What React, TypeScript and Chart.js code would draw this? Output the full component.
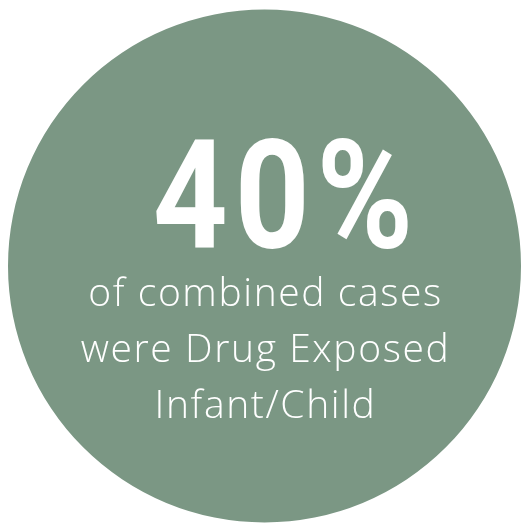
import React, { useEffect, useRef } from "react";
import { Chart, registerables } from "chart.js";

Chart.register(...registerables);

const categories = ["Drug Exposed Infant/Child"];
const values = [40];
const captionLines = ["of combined cases", "were Drug Exposed", "Infant/Child"];
const circleColor = "#7b9784";

const textPlugin = {
  id: "centerText",
  afterDraw(chart: any) {
    const ctx = chart.ctx as CanvasRenderingContext2D;
    const meta = chart.getDatasetMeta(0);
    const arc = meta.data[0];
    if (!arc) return;
    const cx = arc.x;
    const cy = arc.y;
    ctx.save();
    ctx.fillStyle = "#ffffff";
    ctx.textAlign = "center";
    ctx.textBaseline = "alphabetic";
    // big number
    ctx.save();
    (ctx as any).letterSpacing = "8px";
    ctx.font = "700 152px Roboto";
    ctx.translate(cx + 22, cy - 18);
    ctx.scale(0.86, 1);
    ctx.fillText(`${values[0]}%`, 0, 0);
    ctx.restore();
    // caption
    (ctx as any).letterSpacing = "1.6px";
    ctx.font = "300 39px 'Open Sans'";
    captionLines.forEach((line, i) => {
      ctx.fillText(line, cx + 1, cy + 40 + i * 56);
    });
    ctx.restore();
  },
};

export default function App() {
  const ref = useRef<HTMLCanvasElement | null>(null);
  useEffect(() => {
    if (!ref.current) return;
    const chart = new Chart(ref.current, {
      type: "pie",
      data: {
        labels: categories,
        datasets: [
          {
            data: [100],
            backgroundColor: [circleColor],
            borderWidth: 0,
          },
        ],
      },
      options: {
        animation: false,
        responsive: false,
        maintainAspectRatio: false,
        events: [],
        layout: { padding: { left: 8, right: 0, top: 9, bottom: 2 } },
        plugins: {
          legend: { display: false },
          tooltip: { enabled: false },
        },
      },
      plugins: [textPlugin],
    });
    return () => chart.destroy();
  }, []);
  return (
    <div style={{ position: "absolute", left: 0, top: 0, width: 521, height: 525, background: "#fff" }}>
      <canvas ref={ref} width={521} height={525} style={{ width: 521, height: 525, display: "block" }} />
    </div>
  );
}
